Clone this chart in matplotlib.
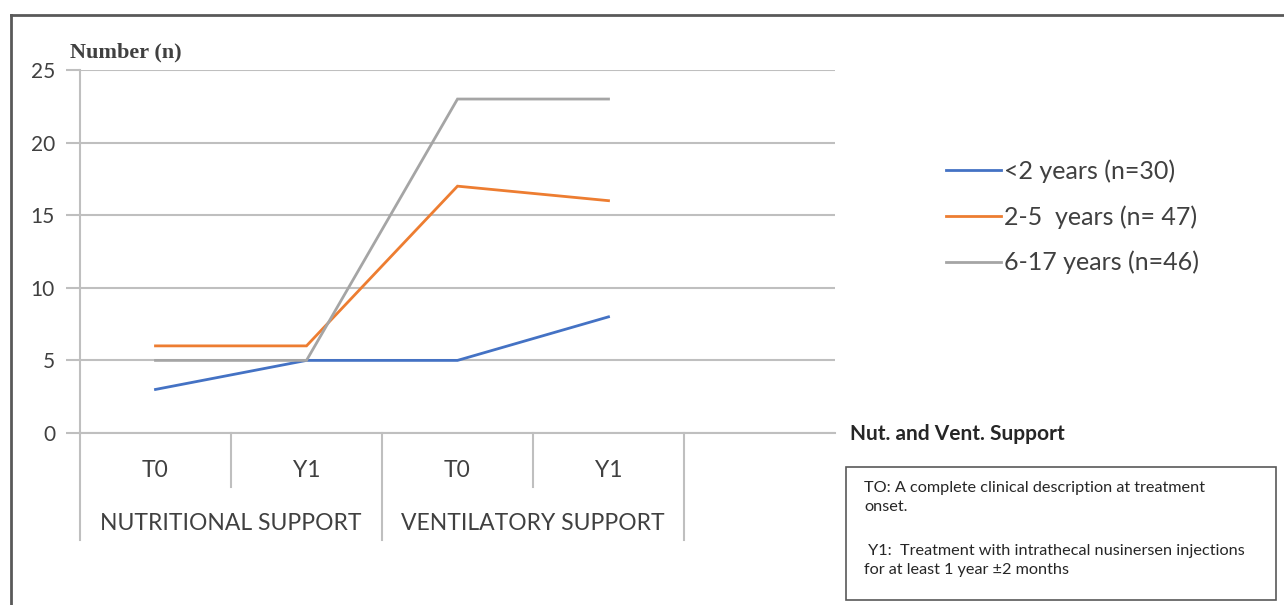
import matplotlib
matplotlib.use("Agg")
import matplotlib.pyplot as plt
from matplotlib.lines import Line2D
from matplotlib.patches import Rectangle

# ---- data ----
time_labels = ["T0", "Y1", "T0", "Y1"]
group_labels = ["NUTRITIONAL SUPPORT", "VENTILATORY SUPPORT"]
series_names = ["<2 years (n=30)", "2-5  years (n= 47)", "6-17 years (n=46)"]
under2 = [3, 5, 5, 8]
age2_5 = [6, 6, 17, 16]
age6_17 = [5, 5, 23, 23]
y_ticks = [0, 5, 10, 15, 20, 25]
colors = ["#4472C4", "#ED7D31", "#A5A5A5"]

plt.rcParams['font.family'] = ['Lato', 'DejaVu Sans']

W, H = 1284, 605
fig = plt.figure(figsize=(W / 100, H / 100), dpi=100)
fig.patch.set_facecolor("white")

left, right, top, bottom = 80, 835, 70, 433
ax = fig.add_axes([left / W, 1 - bottom / H, (right - left) / W, (bottom - top) / H])

n_slots = 5
xs = [i + 0.5 for i in range(len(time_labels))]
for vals, c, name in zip([under2, age2_5, age6_17], colors, series_names):
    ax.plot(xs, vals, color=c, lw=2.0, label=name, solid_joinstyle="miter", zorder=3)

ax.set_xlim(0, n_slots)
ax.set_ylim(0, 25)
ax.set_yticks(y_ticks)
ax.set_yticklabels([str(t) for t in y_ticks], fontsize=15, color="#404040")
ax.yaxis.grid(True, color="#BFBFBF", lw=1.5)
ax.set_axisbelow(True)
ax.tick_params(axis="y", length=10, width=1.5, color="#BFBFBF", pad=8)
ax.set_xticks([])
for s in ["top", "right"]:
    ax.spines[s].set_visible(False)
ax.spines["left"].set_color("#BFBFBF")
ax.spines["left"].set_linewidth(1.5)
ax.spines["bottom"].set_color("#BFBFBF")
ax.spines["bottom"].set_linewidth(1.5)

# category separators
tr = ax.get_xaxis_transform()
for i in range(n_slots):
    y_end = -0.295 if i % 2 == 0 else -0.149
    ax.add_line(Line2D([i, i], [0, y_end], transform=tr, color="#BFBFBF", lw=1.5, clip_on=False))
for x, lab in zip(xs, time_labels):
    ax.text(x, -0.103, lab, transform=tr, ha="center", va="center", fontsize=16.5, color="#404040")
for g, lab in enumerate(group_labels):
    ax.text(2 * g + 1, -0.248, lab, transform=tr, ha="center", va="center", fontsize=16.5, color="#404040")

# y axis title
fig.text(70 / W, 1 - 52 / H, "Number (n)", family="Liberation Serif", fontweight="bold",
         fontsize=16, color="#404040", ha="left", va="center")

# legend
leg = fig.legend(loc="upper left", bbox_to_anchor=(923 / W, 1 - 137 / H), frameon=False,
                 fontsize=18, handlelength=2.2, handletextpad=0.15, labelspacing=0.88,
                 labelcolor="#404040")

# right-side label
fig.text(850 / W, 1 - 434 / H, "Nut. and Vent. Support", fontweight="bold", fontsize=15,
         color="#262626", ha="left", va="center")

# note box
fig.add_artist(Rectangle((846 / W, 1 - 600 / H), (1276 - 846) / W, (600 - 467) / H,
                         transform=fig.transFigure, fill=False, edgecolor="#595959", lw=1.2))
note_lines = [(488, "TO: A complete clinical description at treatment"),
              (507, "onset."),
              (551, " Y1:  Treatment with intrathecal nusinersen injections"),
              (570, "for at least 1 year \u00b12 months")]
for y, t in note_lines:
    fig.text(864 / W, 1 - y / H, t, fontsize=11.7, color="#262626", ha="left", va="center")

# outer frame
fig.add_artist(Line2D([11 / W, 11 / W], [0, 1 - 15 / H], transform=fig.transFigure,
                      color="#595959", lw=2))
fig.add_artist(Line2D([11 / W, 1], [1 - 15 / H, 1 - 15 / H], transform=fig.transFigure,
                      color="#595959", lw=2))

fig.savefig("out.png", dpi=100)
